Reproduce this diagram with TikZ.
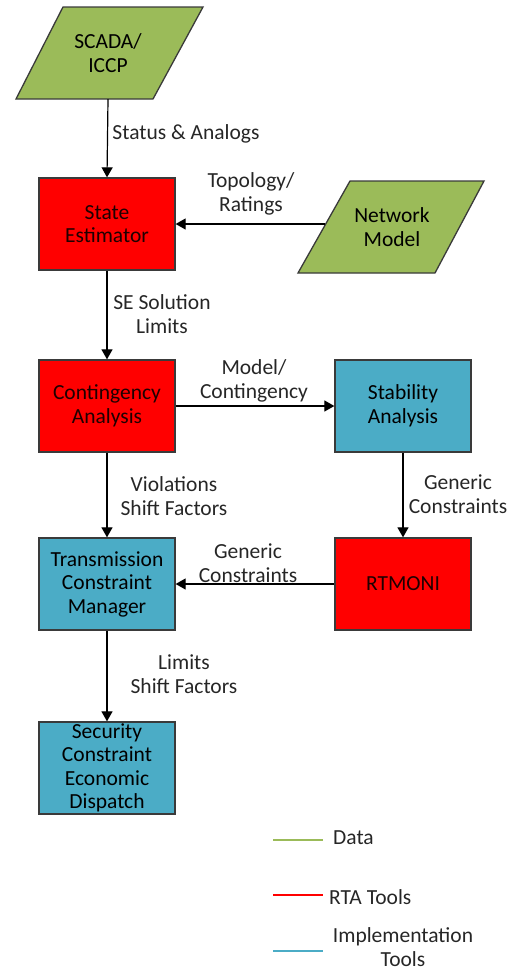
\documentclass[tikz,border=0pt]{standalone}
\usepackage{fontspec}
\setmainfont{Carlito}
\usetikzlibrary{arrows.meta}
\definecolor{datagreen}{HTML}{9BBB59}
\definecolor{rtared}{HTML}{FF0000}
\definecolor{implblue}{HTML}{4BACC6}
\definecolor{edgegray}{HTML}{3A3A3A}
\definecolor{txt}{HTML}{262626}
\definecolor{redtxt}{HTML}{1E0000}
\begin{document}
\begin{tikzpicture}[x=1pt,y=-1pt,
  every node/.style={font=\fontsize{21.5}{23.5}\selectfont, text=txt},
  toolbox/.style={draw=edgegray, line width=1.3pt, minimum width=136pt, minimum height=92pt, align=center, inner sep=0pt},
  rtabox/.style={toolbox, fill=rtared, text=redtxt},
  implbox/.style={toolbox, fill=implblue, text=black},
  datafill/.style={draw=edgegray, line width=1.3pt, fill=datagreen},
  datanode/.style={minimum width=134pt, minimum height=92pt, align=center, inner sep=0pt, text=black},
  flow/.style={draw=black, line width=1.2pt, -{Triangle[length=10pt,width=11pt]}},
  lbl/.style={align=center, inner sep=0pt},
  legendline/.style={line width=1.5pt}
]
\useasboundingbox (0,0) rectangle (510,972);

% data sources (parallelograms)
\path[datafill] (63,7) -- (203,7) -- (153,99) -- (16,99) -- cycle;
\node[datanode] (scada) at (108,53) {SCADA/\\ICCP};
\path[datafill] (350,181) -- (484,181) -- (435,273) -- (298,273) -- cycle;
\node[datanode] (netmodel) at (392,227) {Network\\Model};

% processing blocks
\node[rtabox]  (se)    at (107,224) {State\\Estimator};
\node[rtabox]  (ca)    at (107,406) {Contingency\\Analysis};
\node[implbox] (sa)    at (403,406) {Stability\\Analysis};
\node[implbox] (tcm)   at (107,584) {Transmission\\Constraint\\Manager};
\node[rtabox]  (rtm)   at (403,584) {RTMONI};
\node[implbox] (sced)  at (107,768) {Security\\Constraint\\Economic\\Dispatch};

% data flow
\draw[flow] (scada.south) -- (se.north);
\draw[flow] (netmodel.west |- se.east) -- (se.east);
\draw[flow] (se.south) -- (ca.north);
\draw[flow] (ca.east) -- (sa.west);
\draw[flow] (ca.south) -- (tcm.north);
\draw[flow] (sa.south) -- (rtm.north);
\draw[flow] (rtm.west) -- (tcm.east);
\draw[flow] (tcm.south) -- (sced.north);

% flow labels
\node[lbl] (l1) at (186,134) {Status \& Analogs};
\node[lbl] (l2) at (251,194) {Topology/\\Ratings};
\node[lbl] (l3) at (162,314) {SE Solution\\Limits};
\node[lbl] (l4) at (254,381) {Model/\\Contingency};
\node[lbl] (l5) at (174,496) {Violations\\Shift Factors};
\node[lbl] (l6) at (458,494) {Generic\\Constraints};
\node[lbl] (l7) at (248,563) {Generic\\Constraints};
\node[lbl] (l8) at (184,674) {Limits\\Shift Factors};

% legend
\coordinate (g0) at (273,840); \coordinate (g1) at (323,840);
\coordinate (r0) at (273,895); \coordinate (r1) at (323,895);
\coordinate (b0) at (273,951); \coordinate (b1) at (323,951);
\draw[legendline, draw=datagreen] (g0) -- (g1);
\draw[legendline, draw=rtared] (r0) -- (r1);
\draw[legendline, draw=implblue] (b0) -- (b1);
\node[lbl, anchor=west] (ldata) at (333,838) {Data};
\node[lbl, anchor=west] (lrta) at (329,897) {RTA Tools};
\node[lbl] (limpl) at (403,947) {Implementation\\Tools};
\end{tikzpicture}
\end{document}
